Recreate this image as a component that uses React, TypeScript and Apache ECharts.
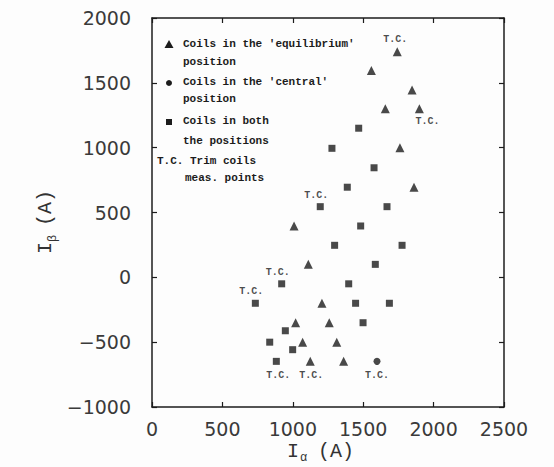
import React, { useEffect, useRef } from "react";
import * as echarts from "echarts";

// Coils in the 'equilibrium' position (triangles): [I_alpha, I_beta]
const equilibriumPoints: number[][] = [
  [1742, 1740], [1558, 1595], [1847, 1445], [1657, 1300], [1899, 1300],
  [1761, 1000], [1861, 695], [1009, 396], [1110, 100], [1207, -200],
  [1020, -350], [1259, -350], [1070, -500], [1312, -500], [1124, -648], [1361, -648],
];
const equilibriumTC: boolean[] = [
  true, false, false, false, true, false, false, false, false, false,
  false, false, false, false, true, false,
];

// Coils in the 'central' position (circles)
const centralPoints: number[][] = [[1598, -648]];
const centralTC: boolean[] = [true];

// Coils in both positions (squares)
const bothPoints: number[][] = [
  [1468, 1150], [1278, 995], [1577, 845], [1387, 695], [1195, 545], [1669, 545],
  [1482, 396], [1297, 247], [1776, 247], [1586, 100], [921, -50], [1397, -50],
  [734, -200], [1446, -200], [1686, -200], [1499, -350], [947, -412], [836, -500],
  [999, -558], [883, -648],
];
const bothTC: boolean[] = [
  false, false, false, false, true, false, false, false, false, false, true, false,
  true, false, false, false, false, false, false, true,
];

const xTicks = [0, 500, 1000, 1500, 2000, 2500];
const yTicks = [-1000, -500, 0, 500, 1000, 1500, 2000];

const INK = "#1c1c1c";
const MONO = "'Liberation Mono', 'DejaVu Sans Mono', monospace";

function buildData(points: number[][], tc: boolean[], positions: Record<number, any>) {
  return points.map((p, i) => {
    if (!tc[i]) return { value: p };
    const pos = positions[i] || { position: "top", offset: [0, 0] };
    return {
      value: p,
      label: {
        show: true,
        formatter: "T.C.",
        position: pos.position,
        offset: pos.offset,
        distance: 3,
        fontFamily: MONO,
        fontWeight: "bold",
        fontSize: 10,
        color: INK,
      },
    };
  });
}

export default function App() {
  const ref = useRef<HTMLDivElement>(null);
  useEffect(() => {
    if (!ref.current) return;
    const chart = echarts.init(ref.current, undefined, { renderer: "svg" });
    const axisCommon = {
      type: "value" as const,
      axisLine: { show: true, onZero: false, lineStyle: { color: INK, width: 1.5 } },
      axisTick: { show: true, inside: true, length: 5, lineStyle: { color: INK, width: 1.2 } },
      splitLine: { show: false },
    };
    const labelStyle = {
      fontFamily: "'DejaVu Sans', sans-serif",
      fontSize: 19,
      color: "#3a3a3a",
    };
    const fmt = (v: number) => (v < 0 ? "\u2212" + Math.abs(v) : String(v));
    chart.setOption({
      animation: false,
      backgroundColor: "#fdfdfd",
      grid: { left: 152, top: 18, right: 50, bottom: 60, containLabel: false },
      xAxis: [
        {
          ...axisCommon,
          position: "bottom",
          min: xTicks[0],
          max: xTicks[xTicks.length - 1],
          interval: 500,
          axisLabel: { ...labelStyle, margin: 12, formatter: fmt },
        },
        {
          ...axisCommon,
          position: "top",
          min: xTicks[0],
          max: xTicks[xTicks.length - 1],
          interval: 500,
          axisLabel: { show: false },
        },
      ],
      yAxis: [
        {
          ...axisCommon,
          position: "left",
          min: yTicks[0],
          max: yTicks[yTicks.length - 1],
          interval: 500,
          axisLabel: { ...labelStyle, margin: 21, formatter: fmt },
        },
        {
          ...axisCommon,
          position: "right",
          min: yTicks[0],
          max: yTicks[yTicks.length - 1],
          interval: 500,
          axisLabel: { show: false },
        },
      ],
      series: [
        {
          name: "equilibrium",
          type: "scatter",
          symbol: "triangle",
          symbolSize: 9,
          itemStyle: { color: INK },
          data: buildData(equilibriumPoints, equilibriumTC, {
            0: { position: "top", offset: [-2, 0] },
            4: { position: "bottom", offset: [8, 0] },
            14: { position: "bottom", offset: [1, 2] },
          }),
        },
        {
          name: "central",
          type: "scatter",
          symbol: "circle",
          symbolSize: 7,
          itemStyle: { color: INK },
          data: buildData(centralPoints, centralTC, {
            0: { position: "bottom", offset: [0, 3] },
          }),
        },
        {
          name: "both",
          type: "scatter",
          symbol: "rect",
          symbolSize: 7,
          itemStyle: { color: INK },
          data: buildData(bothPoints, bothTC, {
            4: { position: "top", offset: [-4, 0] },
            10: { position: "top", offset: [-4, 0] },
            12: { position: "top", offset: [-4, 0] },
            19: { position: "bottom", offset: [2, 3] },
          }),
        },
      ],
      graphic: [
        // Legend
        { type: "polygon", shape: { points: [[169, 40], [164.5, 48], [173.5, 48]] }, style: { fill: INK } },
        { type: "text", x: 183, y: 44, style: { text: "Coils in the 'equilibrium'", font: `bold 11px ${MONO}`, fill: INK, textVerticalAlign: "middle" } },
        { type: "text", x: 183, y: 62, style: { text: "position", font: `bold 11px ${MONO}`, fill: INK, textVerticalAlign: "middle" } },
        { type: "circle", shape: { cx: 169, cy: 83, r: 3 }, style: { fill: INK } },
        { type: "text", x: 183, y: 82, style: { text: "Coils in the 'central'", font: `bold 11px ${MONO}`, fill: INK, textVerticalAlign: "middle" } },
        { type: "text", x: 183, y: 99, style: { text: "position", font: `bold 11px ${MONO}`, fill: INK, textVerticalAlign: "middle" } },
        { type: "rect", shape: { x: 166, y: 119, width: 6, height: 6 }, style: { fill: INK } },
        { type: "text", x: 183, y: 121, style: { text: "Coils in both", font: `bold 11px ${MONO}`, fill: INK, textVerticalAlign: "middle" } },
        { type: "text", x: 183, y: 141, style: { text: "the positions", font: `bold 11px ${MONO}`, fill: INK, textVerticalAlign: "middle" } },
        { type: "text", x: 157, y: 161, style: { text: "T.C. Trim coils", font: `bold 11px ${MONO}`, fill: INK, textVerticalAlign: "middle" } },
        { type: "text", x: 185, y: 178, style: { text: "meas. points", font: `bold 11px ${MONO}`, fill: INK, textVerticalAlign: "middle" } },
        // X axis name: I_alpha (A)
        { type: "text", x: 287, y: 451, style: { text: "I", font: `20px ${MONO}`, fill: "#333", textVerticalAlign: "middle" } },
        { type: "text", x: 300, y: 458, style: { text: "\u03b1", font: `12px ${MONO}`, fill: "#333", textVerticalAlign: "middle" } },
        { type: "text", x: 318, y: 451, style: { text: "(A)", font: `20px ${MONO}`, fill: "#333", textVerticalAlign: "middle" } },
        // Y axis name: I_beta (A), rotated
        {
          type: "group",
          x: 45,
          y: 254,
          rotation: Math.PI / 2,
          children: [
            { type: "text", x: 0, y: 0, style: { text: "I", font: `20px ${MONO}`, fill: "#333", textVerticalAlign: "middle" } },
            { type: "text", x: 12, y: 8, style: { text: "\u03b2", font: `12px ${MONO}`, fill: "#333", textVerticalAlign: "middle" } },
            { type: "text", x: 28, y: 0, style: { text: "(A)", font: `20px ${MONO}`, fill: "#333", textVerticalAlign: "middle" } },
          ],
        },
      ],
    });
    return () => chart.dispose();
  }, []);
  return (
    <div
      ref={ref}
      style={{ position: "fixed", left: 0, top: 0, width: 554, height: 467 }}
    />
  );
}
